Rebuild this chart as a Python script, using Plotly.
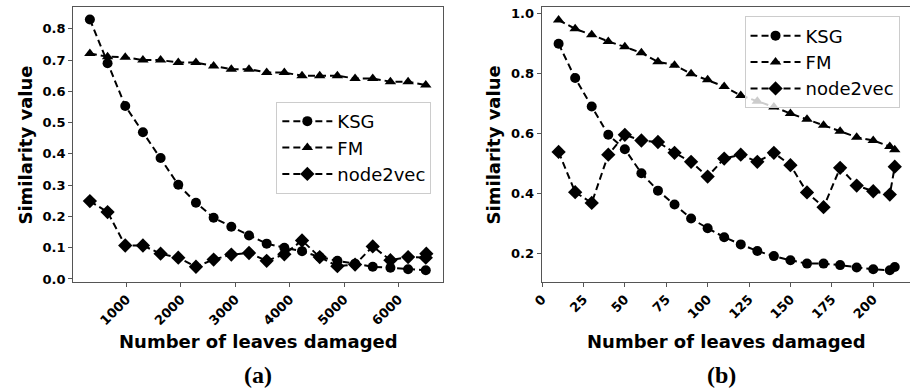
import plotly.graph_objects as go

# ---- data: panel (a) ----
x_a = [325, 650, 975, 1300, 1625, 1950, 2275, 2600, 2925, 3250,
       3575, 3900, 4225, 4550, 4875, 5200, 5525, 5850, 6175, 6500]
ksg_a = [0.83, 0.69, 0.553, 0.469, 0.387, 0.301, 0.244, 0.196, 0.167, 0.139,
         0.113, 0.10, 0.089, 0.07, 0.058, 0.049, 0.039, 0.036, 0.031, 0.028]
fm_a = [0.721, 0.711, 0.709, 0.70, 0.70, 0.692, 0.692, 0.681, 0.671, 0.671,
        0.66, 0.66, 0.65, 0.65, 0.65, 0.641, 0.641, 0.631, 0.631, 0.62]
x_a_n2v = [325, 650, 975, 1300, 1625, 1950, 2275, 2600, 2925, 3250,
           3575, 3900, 4225, 4550, 4875, 5200, 5525, 5850, 6175, 6500, 6510]
n2v_a = [0.249, 0.214, 0.107, 0.107, 0.081, 0.068, 0.039, 0.062, 0.078, 0.083,
         0.058, 0.079, 0.123, 0.07, 0.041, 0.046, 0.104, 0.06, 0.07, 0.068, 0.081]
ticks_a = [1000, 2000, 3000, 4000, 5000, 6000]
yticks_a = [0.0, 0.1, 0.2, 0.3, 0.4, 0.5, 0.6, 0.7, 0.8]

# ---- data: panel (b) ----
x_b = [10, 20, 30, 40, 50, 60, 70, 80, 90, 100, 110,
       120, 130, 140, 150, 160, 170, 180, 190, 200, 210, 213]
ksg_b = [0.899, 0.785, 0.69, 0.596, 0.548, 0.468, 0.41, 0.364, 0.317, 0.285, 0.255,
         0.231, 0.209, 0.192, 0.178, 0.167, 0.167, 0.162, 0.154, 0.148, 0.145, 0.156]
fm_b = [0.978, 0.949, 0.929, 0.907, 0.889, 0.869, 0.839, 0.828, 0.799, 0.779, 0.757,
        0.727, 0.708, 0.689, 0.667, 0.648, 0.628, 0.608, 0.588, 0.577, 0.557, 0.546]
n2v_b = [0.539, 0.405, 0.369, 0.530, 0.596, 0.577, 0.572, 0.536, 0.506, 0.457, 0.517,
         0.530, 0.506, 0.536, 0.495, 0.404, 0.355, 0.486, 0.427, 0.408, 0.397, 0.49]
ticks_b = [0, 25, 50, 75, 100, 125, 150, 175, 200]
yticks_b = [0.2, 0.4, 0.6, 0.8, 1.0]

names = ["KSG", "FM", "node2vec"]
symbols = ["circle", "triangle-up", "diamond"]
sizes = [10, 10, 11]

W, H = 910, 391
DASH = "7px,4px"

fig = go.Figure()

def add(x, y, i, xa, ya, leg):
    fig.add_trace(go.Scatter(
        x=x, y=y, mode="lines+markers", name=names[i],
        xaxis=xa, yaxis=ya, legend=leg,
        line=dict(color="black", width=2, dash=DASH),
        marker=dict(symbol=symbols[i], size=sizes[i], color="black"),
    ))

add(x_a, ksg_a, 0, "x", "y", "legend")
add(x_a, fm_a, 1, "x", "y", "legend")
add(x_a_n2v, n2v_a, 2, "x", "y", "legend")
add(x_b, ksg_b, 0, "x2", "y2", "legend2")
add(x_b, fm_b, 1, "x2", "y2", "legend2")
add(x_b, n2v_b, 2, "x2", "y2", "legend2")

frame = "#555555"
tickfont = dict(family="DejaVu Sans", size=13, color="black", weight="bold")
ydom = [1 - 285 / H, 1 - 6 / H]

common = dict(showline=True, linecolor=frame, linewidth=1.2, ticks="outside",
              ticklen=4, tickcolor=frame, tickwidth=1, showgrid=False,
              zeroline=False, tickfont=tickfont)

fig.update_layout(
    width=W, height=H,
    margin=dict(l=0, r=0, t=0, b=0),
    paper_bgcolor="white", plot_bgcolor="white",
    xaxis=dict(domain=[64 / W, 438 / W], range=[20, 6820], anchor="y",
               tickvals=ticks_a, tickangle=-45, mirror=True, **common),
    yaxis=dict(domain=ydom, range=[-0.0085, 0.870], anchor="x",
               tickvals=yticks_a, tickformat=".1f", mirror=True, **common),
    xaxis2=dict(domain=[537.7 / W, 1.0], range=[-0.15, 222.2], anchor="y2",
                tickvals=ticks_b, tickangle=-45, mirror=True, **common),
    yaxis2=dict(domain=ydom, range=[0.107, 1.022], anchor="x2",
                tickvals=yticks_b, tickformat=".1f", mirror=False, **common),
    legend=dict(x=269.3 / W, y=1 - 102.5 / H, xanchor="left", yanchor="top",
                bgcolor="rgba(255,255,255,0.8)", bordercolor="#cccccc", borderwidth=1,
                font=dict(family="DejaVu Sans", size=18, color="black"),
                itemwidth=50),
    legend2=dict(x=742.7 / W, y=1 - 15.7 / H, xanchor="left", yanchor="top",
                 bgcolor="rgba(255,255,255,0.8)", bordercolor="#cccccc", borderwidth=1,
                 font=dict(family="DejaVu Sans", size=18, color="black"),
                 itemwidth=50),
    showlegend=True,
)

titlefont = dict(family="DejaVu Sans", size=18, color="black", weight="bold")
capfont = dict(family="Liberation Serif", size=24, color="black", weight="bold")
ann = [
    dict(text="Number of leaves damaged", x=251 / W, y=1 - 346 / H, font=titlefont),
    dict(text="Number of leaves damaged", x=724 / W, y=1 - 346 / H, font=titlefont),
    dict(text="Similarity value", x=16 / W, y=1 - 146 / H, textangle=-90, font=titlefont),
    dict(text="Similarity value", x=489 / W, y=1 - 146 / H, textangle=-90, font=titlefont),
    dict(text="(a)", x=250.8 / W, y=1 - 379.5 / H, font=capfont),
    dict(text="(b)", x=719 / W, y=1 - 379.5 / H, font=capfont),
]
for a in ann:
    fig.add_annotation(xref="paper", yref="paper", xanchor="center", yanchor="middle",
                       showarrow=False, **a)

fig.write_html("out.html",
               config={"displayModeBar": False},
               post_script="document.body.style.margin='0';document.body.style.padding='0';")
